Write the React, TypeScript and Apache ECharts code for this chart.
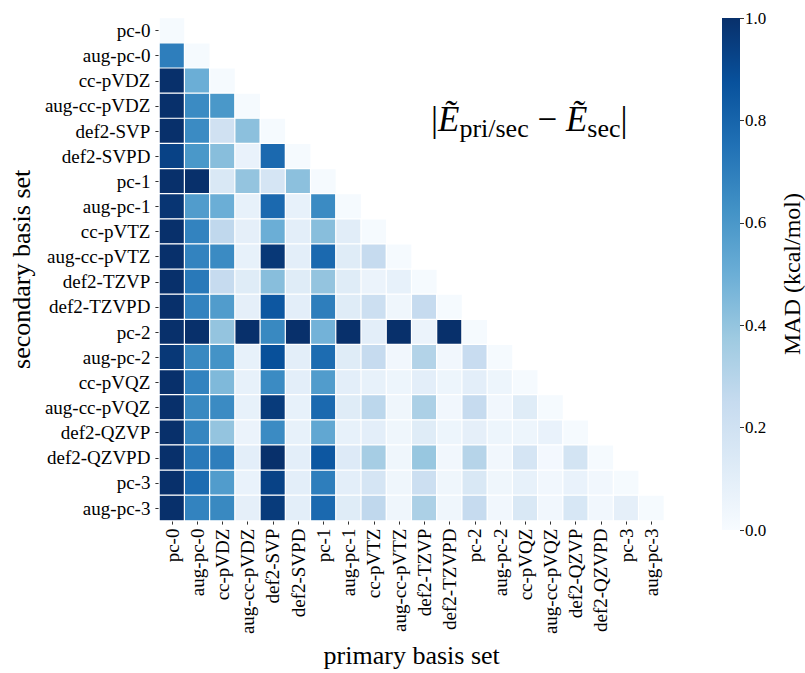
import React, { useEffect, useRef } from "react";
import * as echarts from "echarts";

const basisSets = [
  "pc-0", "aug-pc-0", "cc-pVDZ", "aug-cc-pVDZ", "def2-SVP", "def2-SVPD",
  "pc-1", "aug-pc-1", "cc-pVTZ", "aug-cc-pVTZ", "def2-TZVP", "def2-TZVPD",
  "pc-2", "aug-pc-2", "cc-pVQZ", "aug-cc-pVQZ", "def2-QZVP", "def2-QZVPD",
  "pc-3", "aug-pc-3",
];

// MAD (kcal/mol), lower triangle: row = secondary, col = primary
const r00 = [0.01];
const r01 = [0.70, 0.01];
const r02 = [1.0, 0.50, 0.01];
const r03 = [1.0, 0.65, 0.60, 0.01];
const r04 = [1.0, 0.65, 0.20, 0.42, 0.01];
const r05 = [0.93, 0.60, 0.43, 0.07, 0.78, 0.01];
const r06 = [1.0, 1.0, 0.15, 0.40, 0.17, 0.42, 0.01];
const r07 = [0.98, 0.58, 0.50, 0.08, 0.78, 0.08, 0.65, 0.01];
const r08 = [1.0, 0.68, 0.27, 0.09, 0.50, 0.10, 0.43, 0.11, 0.01];
const r09 = [1.0, 0.68, 0.65, 0.08, 0.97, 0.10, 0.78, 0.12, 0.25, 0.01];
const r10 = [1.0, 0.72, 0.25, 0.12, 0.43, 0.12, 0.40, 0.12, 0.06, 0.08, 0.01];
const r11 = [1.0, 0.68, 0.58, 0.09, 0.85, 0.10, 0.70, 0.12, 0.22, 0.04, 0.25, 0.01];
const r12 = [1.0, 1.0, 0.40, 1.0, 0.66, 1.0, 0.48, 1.0, 0.10, 1.0, 0.06, 1.0, 0.01];
const r13 = [0.97, 0.66, 0.62, 0.08, 0.88, 0.10, 0.77, 0.12, 0.25, 0.03, 0.31, 0.03, 0.24, 0.01];
const r14 = [1.0, 0.68, 0.45, 0.08, 0.65, 0.10, 0.58, 0.10, 0.08, 0.05, 0.10, 0.05, 0.10, 0.05, 0.01];
const r15 = [1.0, 0.66, 0.65, 0.08, 0.96, 0.08, 0.78, 0.12, 0.28, 0.04, 0.33, 0.03, 0.25, 0.03, 0.12, 0.01];
const r16 = [1.0, 0.67, 0.40, 0.06, 0.65, 0.08, 0.53, 0.08, 0.10, 0.04, 0.12, 0.05, 0.09, 0.05, 0.05, 0.07, 0.01];
const r17 = [1.0, 0.72, 0.70, 0.10, 1.0, 0.10, 0.85, 0.13, 0.35, 0.04, 0.39, 0.03, 0.30, 0.03, 0.17, 0.02, 0.18, 0.01];
const r18 = [1.0, 0.77, 0.58, 0.07, 0.93, 0.10, 0.70, 0.10, 0.17, 0.04, 0.22, 0.04, 0.15, 0.04, 0.08, 0.03, 0.07, 0.03, 0.01];
const r19 = [1.0, 0.68, 0.66, 0.09, 0.96, 0.10, 0.78, 0.12, 0.27, 0.04, 0.33, 0.04, 0.25, 0.03, 0.15, 0.03, 0.16, 0.03, 0.09, 0.01];
const lowerRows = [r00, r01, r02, r03, r04, r05, r06, r07, r08, r09, r10, r11, r12, r13, r14, r15, r16, r17, r18, r19];

const colorbarTicks = [0, 0.2, 0.4, 0.6, 0.8, 1.0];
const blues = ["#f7fbff", "#deebf7", "#c6dbef", "#9ecae1", "#6baed6", "#4292c6", "#2171b5", "#08519c", "#08306b"];

const SERIF = "'Liberation Serif', 'Times New Roman', serif";

export default function App() {
  const ref = useRef<HTMLDivElement>(null);
  useEffect(() => {
    if (!ref.current) return;
    const chart = echarts.init(ref.current, null, { renderer: "svg" });
    const data: [number, number, number][] = [];
    lowerRows.forEach((row, j) => row.forEach((v, i) => data.push([i, j, v])));
    const stops = blues.map((c, k) => ({ offset: k / (blues.length - 1), color: c }));
    chart.setOption({
      animation: false,
      backgroundColor: "#ffffff",
      grid: [
        { left: 152, top: 18, width: 512, height: 512 },
        { left: 722, top: 18, width: 24, height: 512 },
      ],
      xAxis: [
        {
          type: "category",
          gridIndex: 0,
          data: basisSets,
          position: "bottom",
          axisLine: { show: false },
          axisTick: { show: true, alignWithLabel: true, length: 4, lineStyle: { color: "#333" } },
          axisLabel: { rotate: 90, interval: 0, margin: 8, color: "#000", fontFamily: SERIF, fontSize: 19 },
          splitLine: { show: false },
          name: "primary basis set",
          nameLocation: "middle",
          nameGap: 118,
          nameTextStyle: { color: "#000", fontFamily: SERIF, fontSize: 26 },
        },
        {
          type: "category",
          gridIndex: 1,
          data: ["c"],
          show: false,
        },
      ],
      yAxis: [
        {
          type: "category",
          gridIndex: 0,
          data: basisSets,
          inverse: true,
          axisLine: { show: false },
          axisTick: { show: true, alignWithLabel: true, length: 4, lineStyle: { color: "#333" } },
          axisLabel: { interval: 0, margin: 9, color: "#000", fontFamily: SERIF, fontSize: 19 },
          splitLine: { show: false },
          name: "secondary basis set",
          nameLocation: "middle",
          nameGap: 120,
          nameTextStyle: { color: "#000", fontFamily: SERIF, fontSize: 26 },
        },
        {
          type: "value",
          gridIndex: 1,
          position: "right",
          min: 0,
          max: 1,
          interval: 0.2,
          axisLine: { show: false },
          axisTick: { show: true, length: 4, lineStyle: { color: "#333" } },
          axisLabel: { margin: 5, color: "#000", fontFamily: SERIF, fontSize: 17, formatter: (v: number) => v.toFixed(1) },
          splitLine: { show: false },
          name: "MAD (kcal/mol)",
          nameLocation: "middle",
          nameRotate: 90,
          nameGap: 40,
          nameTextStyle: { color: "#000", fontFamily: SERIF, fontSize: 24 },
        },
      ],
      visualMap: {
        type: "continuous",
        show: false,
        min: 0,
        max: 1,
        seriesIndex: 0,
        inRange: { color: blues },
      },
      series: [
        {
          type: "heatmap",
          xAxisIndex: 0,
          yAxisIndex: 0,
          data,
          itemStyle: { borderColor: "#ffffff", borderWidth: 1.2 },
          emphasis: { disabled: true },
        },
        {
          type: "bar",
          xAxisIndex: 1,
          yAxisIndex: 1,
          data: [colorbarTicks[colorbarTicks.length - 1]],
          barWidth: "100%",
          itemStyle: { color: new echarts.graphic.LinearGradient(0, 1, 0, 0, stops) },
          silent: true,
        },
      ],
      graphic: [
        {
          type: "text",
          left: 431,
          top: 102,
          style: {
            text: "{n||}{e|Ẽ}{s|pri/sec}{n| − }{e|Ẽ}{s|sec}{n||}",
            fill: "#000",
            rich: {
              n: { fontFamily: SERIF, fontSize: 35, lineHeight: 44, verticalAlign: "middle", fill: "#000" },
              e: { fontFamily: SERIF, fontSize: 35, fontStyle: "italic", lineHeight: 44, verticalAlign: "middle", fill: "#000" },
              s: { fontFamily: SERIF, fontSize: 26, lineHeight: 28, verticalAlign: "bottom", fill: "#000" },
            },
          },
        },
      ],
    });
    return () => chart.dispose();
  }, []);
  return <div ref={ref} style={{ position: "absolute", left: 0, top: 0, width: 805, height: 673 }} />;
}
